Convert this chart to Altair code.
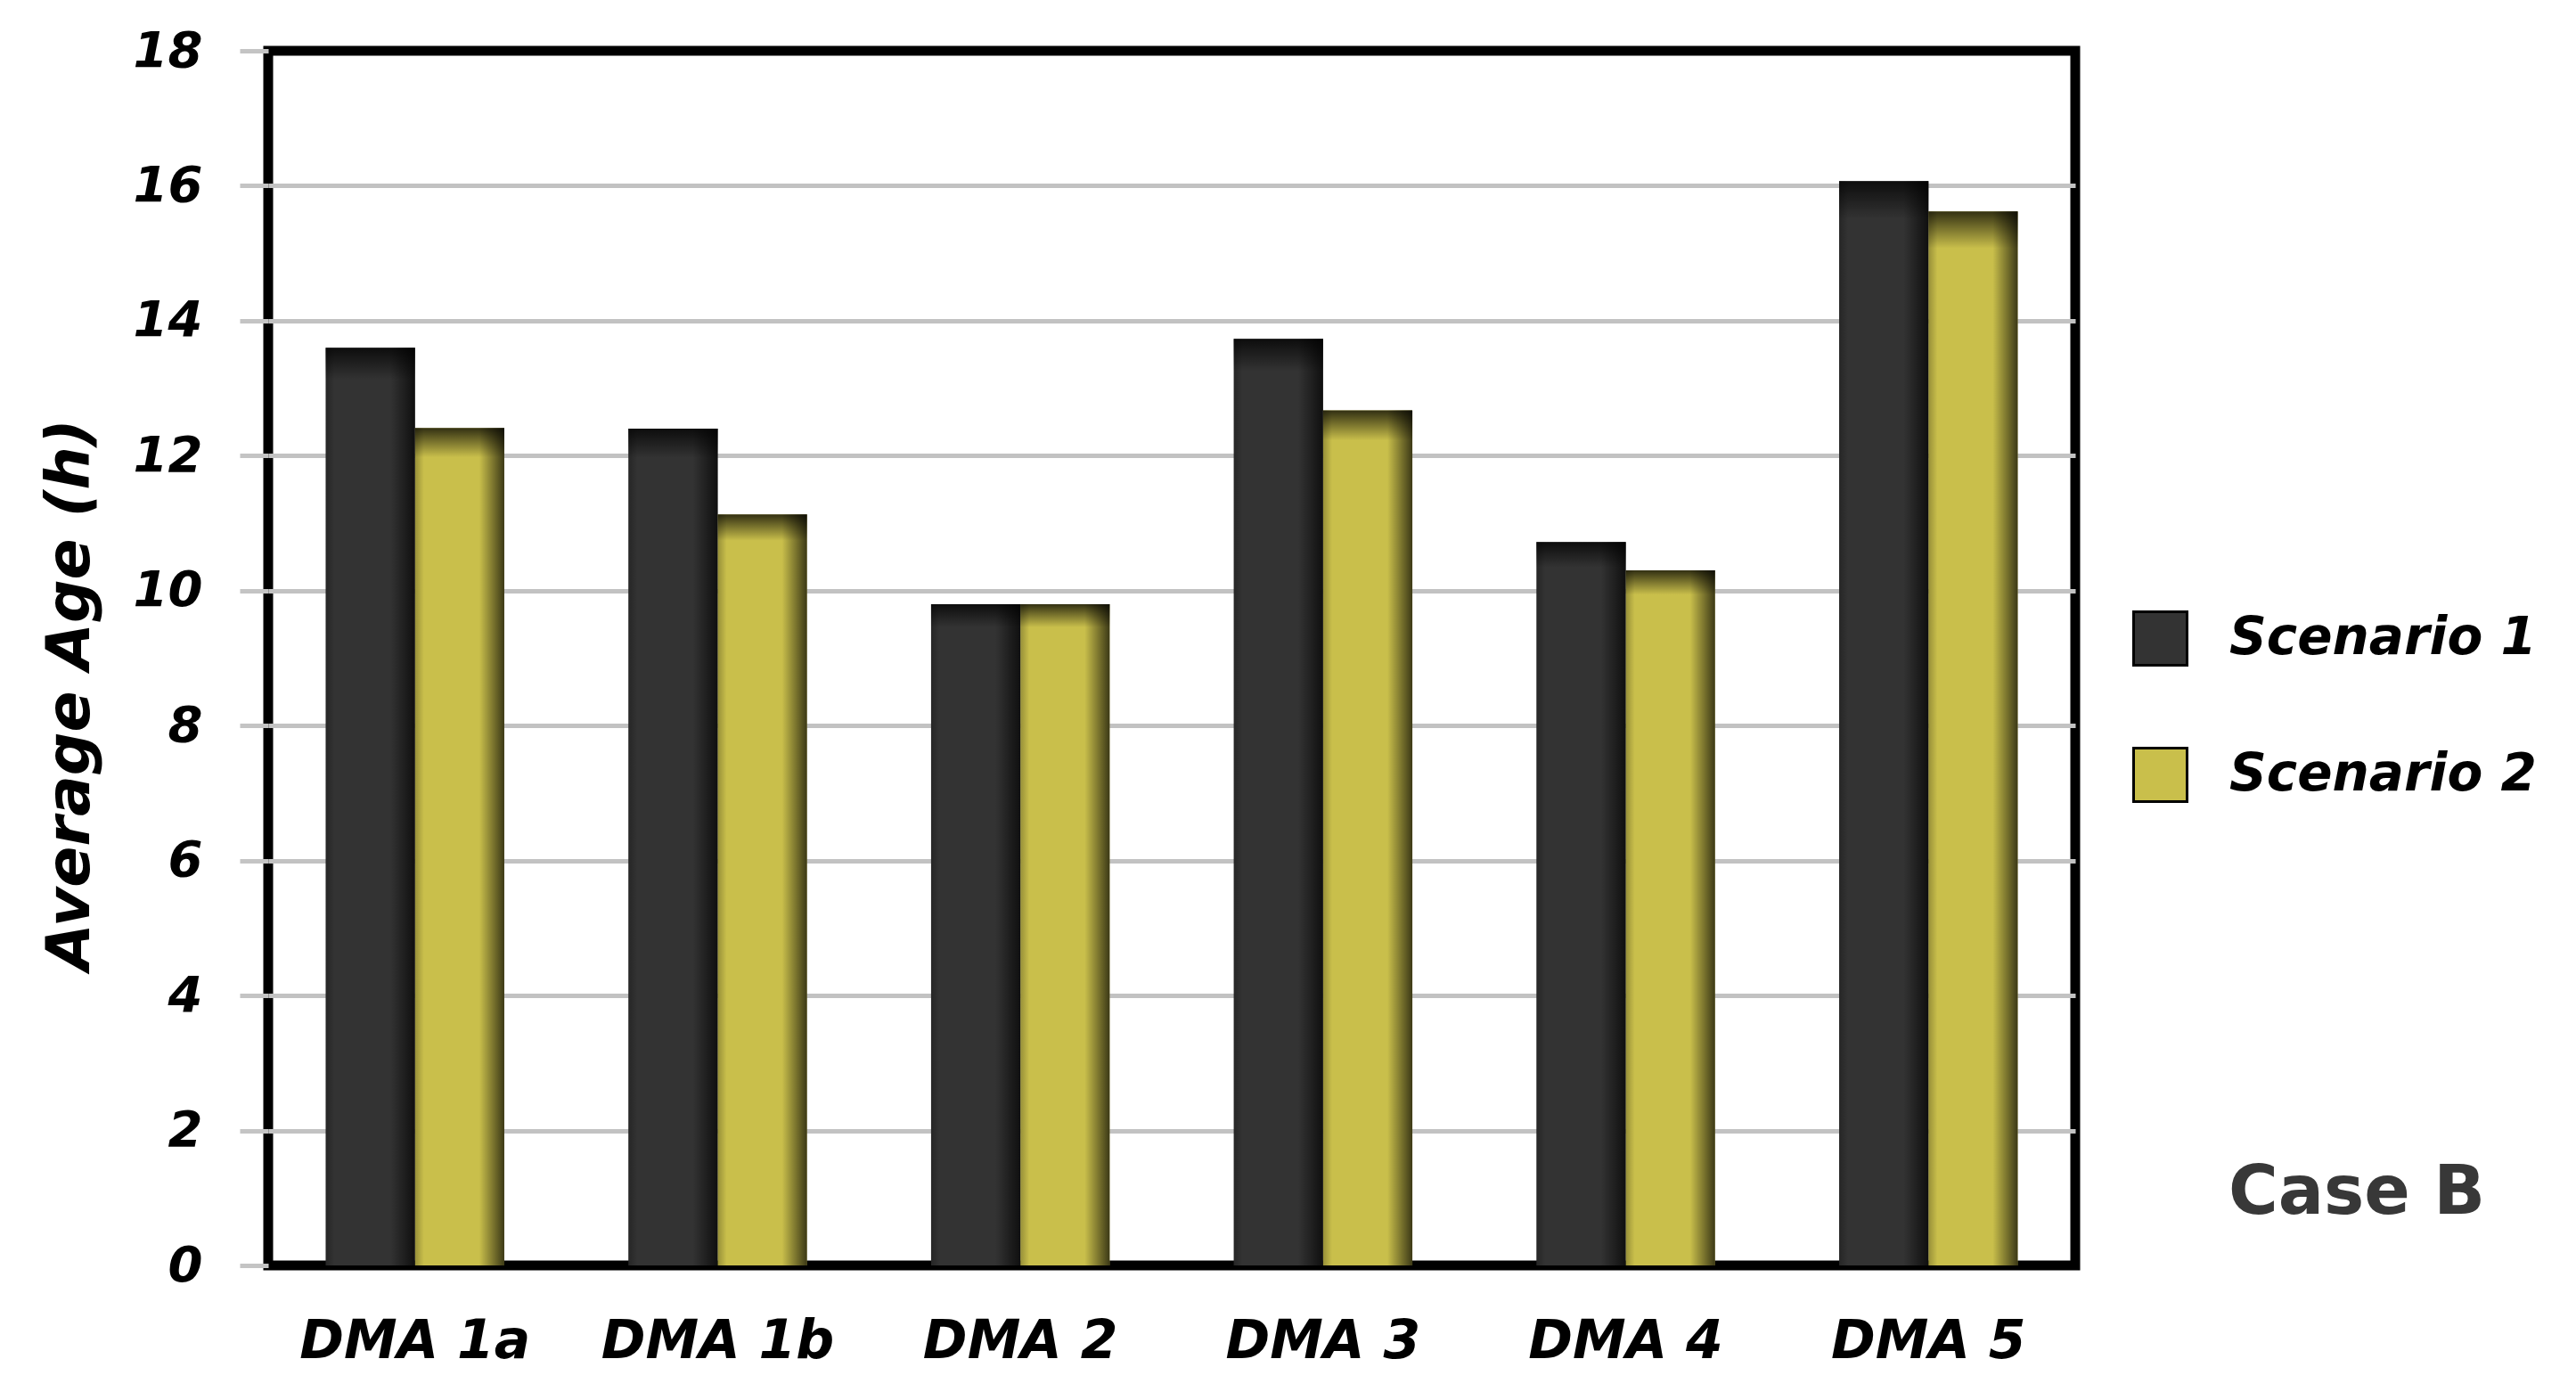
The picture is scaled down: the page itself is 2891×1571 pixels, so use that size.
import altair as alt
import pandas as pd

categories = ["DMA 1a", "DMA 1b", "DMA 2", "DMA 3", "DMA 4", "DMA 5"]
series_names = ["Scenario 1", "Scenario 2"]
scenario1 = [13.6, 12.4, 9.8, 13.73, 10.72, 16.07]
scenario2 = [12.41, 11.13, 9.8, 12.67, 10.3, 15.62]
y_ticks = [0, 2, 4, 6, 8, 10, 12, 14, 16, 18]
series_colors = ["#333333", "#c9bf4b"]

rows = []
for c, v1, v2 in zip(categories, scenario1, scenario2):
    rows.append({"DMA": c, "Scenario": series_names[0], "Age": v1})
    rows.append({"DMA": c, "Scenario": series_names[1], "Age": v2})
df = pd.DataFrame(rows)

FONT = "DejaVu Sans"
W, H = 2028, 1363

x_enc = alt.X("DMA:N", sort=categories,
              scale=alt.Scale(paddingInner=0.41, paddingOuter=0.19),
              axis=alt.Axis(title=None, labelAngle=0, labelFont=FONT, labelFontSize=60,
                            labelFontWeight="bold", labelFontStyle="italic", labelColor="black",
                            labelPadding=56, labelLimit=500, ticks=False, domain=False, grid=False))
xo_enc = alt.XOffset("Scenario:N", sort=series_names, scale=alt.Scale(paddingInner=0))
y_enc = alt.Y("Age:Q", scale=alt.Scale(domain=[0, 18], nice=False),
              axis=alt.Axis(title="Average Age (h)", values=y_ticks, format="d",
                            labelFont=FONT, labelFontSize=56, labelFontWeight="bold",
                            labelFontStyle="italic", labelColor="black", labelPadding=42,
                            ticks=True, tickColor="#c4c4c4", tickWidth=5, tickSize=32,
                            domain=False, grid=True, gridWidth=5,
                            gridColor={"condition": {"test": "datum.value == 0 || datum.value == 18",
                                                     "value": "black"},
                                       "value": "#c2c2c2"},
                            titleFont=FONT, titleFontSize=68, titleFontWeight="bold",
                            titleFontStyle="italic", titleColor="black", titlePadding=36,
                            titleY=722))

base = alt.Chart(df).mark_bar().encode(
    x=x_enc, xOffset=xo_enc, y=y_enc,
    color=alt.Color("Scenario:N", sort=series_names,
                    scale=alt.Scale(domain=series_names, range=series_colors),
                    legend=alt.Legend(title=None, orient="none", legendX=2092, legendY=628,
                                      symbolType="square", symbolSize=3600,
                                      symbolStrokeColor="black", symbolStrokeWidth=3,
                                      symbolOpacity=1, labelFont=FONT, labelFontSize=58,
                                      labelFontWeight="bold", labelFontStyle="italic",
                                      labelColor="black", labelOffset=46, rowPadding=80,
                                      padding=0, labelLimit=600)),
)

shade_h = alt.Chart(df).mark_bar(
    fill=alt.Gradient(gradient="linear", x1=0, x2=1, y1=0, y2=0,
                      stops=[alt.GradientStop(color="rgba(0,0,0,0.25)", offset=0),
                             alt.GradientStop(color="rgba(0,0,0,0)", offset=0.1),
                             alt.GradientStop(color="rgba(0,0,0,0)", offset=0.72),
                             alt.GradientStop(color="rgba(0,0,0,0.7)", offset=1)])
).encode(x=alt.X("DMA:N", sort=categories), xOffset=alt.XOffset("Scenario:N", sort=series_names),
         y=alt.Y("Age:Q"))

shade_v = alt.Chart(df).mark_bar(
    fill=alt.Gradient(gradient="linear", x1=0, x2=0, y1=0, y2=1,
                      stops=[alt.GradientStop(color="rgba(0,0,0,0.75)", offset=0),
                             alt.GradientStop(color="rgba(0,0,0,0)", offset=0.035),
                             alt.GradientStop(color="rgba(0,0,0,0)", offset=1)])
).encode(x=alt.X("DMA:N", sort=categories), xOffset=alt.XOffset("Scenario:N", sort=series_names),
         y=alt.Y("Age:Q"))

case_df = pd.DataFrame({"label": ["Case B"]})
case_text = alt.Chart(case_df).mark_text(
    font=FONT, fontSize=76, fontWeight="bold", color="#383838", align="center", baseline="middle"
).encode(text="label:N", x=alt.value(2344), y=alt.value(1282))

chart = alt.layer(base, shade_h, shade_v, case_text).properties(
    width=W, height=H,
    background="white",
    autosize=alt.AutoSizeParams(type="none"),
    padding={"left": 293, "top": 49, "right": 520, "bottom": 120},
).configure_view(stroke="black", strokeWidth=11)

chart.save("out.html", embed_options={"renderer": "svg", "actions": False})
